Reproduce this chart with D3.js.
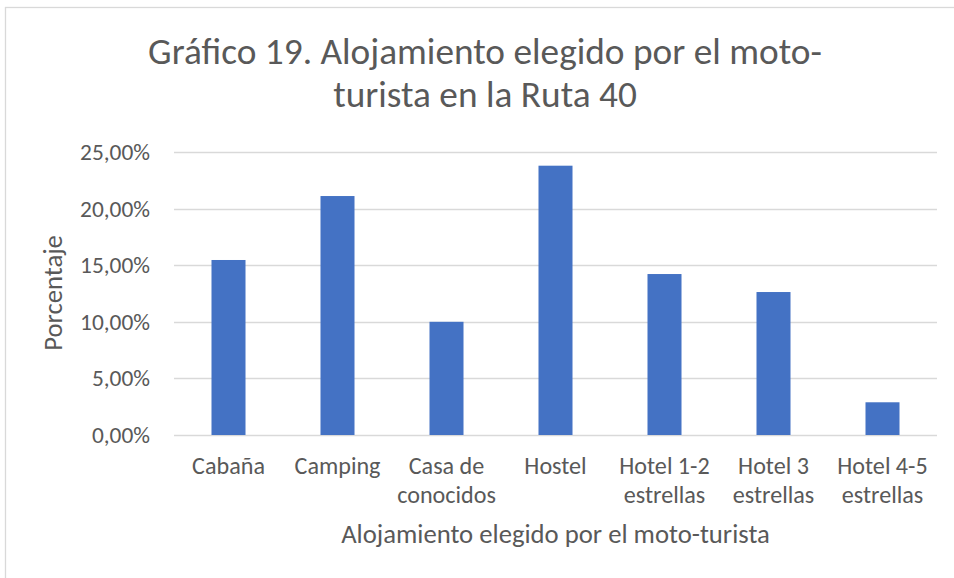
<!DOCTYPE html>
<html>
<head>
<meta charset="utf-8">
<script src="https://cdn.jsdelivr.net/npm/d3@7"></script>
<style>
  html, body { margin: 0; padding: 0; background: #ffffff; }
  svg { display: block; }
  text { font-weight: 300; }
</style>
</head>
<body>
<svg id="chart" width="954" height="578"></svg>
<script>
// ---- data ----
const categories = ["Cabaña", "Camping", "Casa de conocidos", "Hostel", "Hotel 1-2 estrellas", "Hotel 3 estrellas", "Hotel 4-5 estrellas"];
const categoryLines = [["Cabaña"], ["Camping"], ["Casa de", "conocidos"], ["Hostel"], ["Hotel 1-2", "estrellas"], ["Hotel 3", "estrellas"], ["Hotel 4-5", "estrellas"]];
const values = [0.1546, 0.2111, 0.1000, 0.2379, 0.1422, 0.1263, 0.0289];
const yTicks = [0, 0.05, 0.10, 0.15, 0.20, 0.25];
const titleLines = ["Gráfico 19. Alojamiento elegido por el moto-", "turista en la Ruta 40"];
const yAxisTitle = "Porcentaje";
const xAxisTitle = "Alojamiento elegido por el moto-turista";

// ---- setup ----
const FONT = "Carlito, Calibri, Lato, 'Open Sans', sans-serif";
const TEXT = "#595959";
const GRID = "#d9d9d9";
const BAR = "#4472C4";

const svg = d3.select("#chart");
svg.append("rect").attr("x", 0).attr("y", 0).attr("width", 954).attr("height", 578).attr("fill", "#fff");
svg.append("rect").attr("x", 5.5).attr("y", 7.5).attr("width", 1000).attr("height", 700)
  .attr("fill", "#fff").attr("stroke", GRID).attr("stroke-width", 1.3);

const plot = { left: 174, right: 937, top: 152, bottom: 435 };

const x = d3.scaleBand().domain(categories).range([plot.left, plot.right])
  .paddingInner(0.688).paddingOuter(0.344);
const y = d3.scaleLinear().domain([0, 0.25]).range([plot.bottom, plot.top]);

// helper: font size so a sample string reaches a target width
function fitSize(sample, target, base) {
  const t = svg.append("text").attr("font-family", FONT).attr("font-size", base).text(sample);
  const w = t.node().getComputedTextLength();
  t.remove();
  return base * target / w;
}
const tickSize = fitSize("25,00%", 70, 24);
const catSize = fitSize("Camping", 86, 24);
const titleSize = fitSize(titleLines[0], 674, 34);
const axTitleSize = fitSize(xAxisTitle, 429, 24);

// gridlines
svg.append("g").selectAll("line").data(yTicks).join("line")
  .attr("x1", plot.left).attr("x2", plot.right)
  .attr("y1", d => Math.round(y(d)) + 0.5).attr("y2", d => Math.round(y(d)) + 0.5)
  .attr("stroke", GRID).attr("stroke-width", 1.3);

// y axis
const fmt = d => d3.format(".2f")(d * 100).replace(".", ",") + "%";
const yAxis = svg.append("g").attr("transform", `translate(${plot.left},0)`)
  .call(d3.axisLeft(y).tickValues(yTicks).tickFormat(fmt).tickSize(0).tickPadding(24));
yAxis.select(".domain").remove();
yAxis.selectAll("text").attr("font-family", FONT).attr("font-size", tickSize).attr("fill", TEXT);

// bars
svg.append("g").selectAll("rect").data(values).join("rect")
  .attr("x", (d, i) => x(categories[i]))
  .attr("width", x.bandwidth())
  .attr("y", d => y(d))
  .attr("height", d => y(0) - y(d))
  .attr("fill", BAR);

// x axis
const xAxis = svg.append("g").attr("transform", `translate(0,${plot.bottom})`)
  .call(d3.axisBottom(x).tickSize(0).tickFormat(""));
xAxis.select(".domain").remove();
xAxis.selectAll(".tick").each(function (d) {
  const i = categories.indexOf(d);
  const t = d3.select(this).append("text")
    .attr("font-family", FONT).attr("font-size", catSize).attr("fill", TEXT)
    .attr("text-anchor", "middle");
  categoryLines[i].forEach((line, k) => {
    t.append("tspan").attr("x", 0).attr("y", 39 + k * 29).text(line);
  });
});

// axis titles
svg.append("text").attr("x", (plot.left + plot.right) / 2).attr("y", 543)
  .attr("text-anchor", "middle").attr("font-family", FONT).attr("font-size", axTitleSize)
  .attr("fill", TEXT).text(xAxisTitle);
svg.append("text").attr("transform", "translate(62,293) rotate(-90)")
  .attr("text-anchor", "middle").attr("font-family", FONT).attr("font-size", axTitleSize)
  .attr("fill", TEXT).text(yAxisTitle);

// title
svg.append("text").attr("text-anchor", "middle").attr("font-family", FONT)
  .attr("font-size", titleSize).attr("fill", TEXT)
  .selectAll("tspan").data(titleLines).join("tspan")
  .attr("x", 485).attr("y", (d, i) => 64 + i * 43).text(d => d);
</script>
</body>
</html>
